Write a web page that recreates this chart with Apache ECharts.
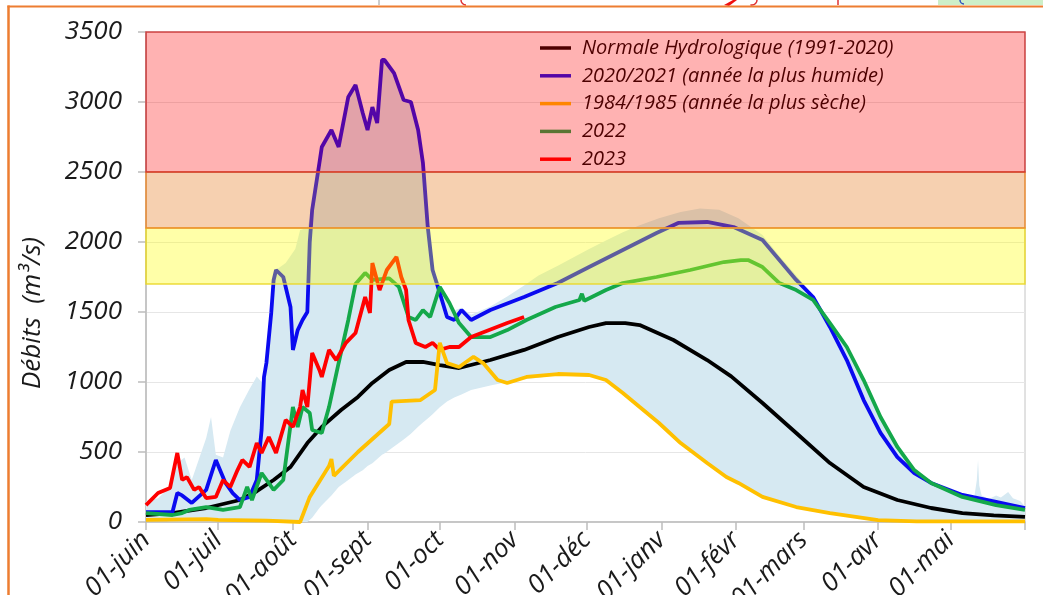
<!DOCTYPE html>
<html>
<head>
<meta charset="utf-8">
<script src="https://cdn.jsdelivr.net/npm/echarts@6/dist/echarts.min.js"></script>
<style>
html,body{margin:0;padding:0;background:#ffffff;}
#chart{width:1043px;height:595px;}
</style>
</head>
<body>
<div id="chart"></div>
<script>
// ---- Axis / category data (day offsets from 1 June) ----
const monthStartDays = [0, 30, 61, 92, 122, 153, 183, 214, 245, 273, 304, 334, 365];
const monthLabels = ['01-juin', '01-juil', '01-août', '01-sept', '01-oct', '01-nov', '01-déc', '01-janv', '01-févr', '01-mars', '01-avr', '01-mai'];
const yMin = 0, yMax = 3500, yStep = 500;
const yTitle = 'Débits  (m³/s)';

// Vigilance thresholds (m3/s) : [low, high]
const seuils = [[1700, 2100], [2100, 2500], [2500, 3500]];

const seriesNames = ['Normale Hydrologique (1991-2020)', '2020/2021 (année la plus humide)', '1984/1985 (année la plus sèche)', '2022', '2023'];

// ---- Series values: [day, m3/s] ----
const normale = [[0,50],[11,64],[25,100],[39,157],[46,220],[53,300],[60,393],[67,564],[73,679],[81,800],[88,893],[94,993],[101,1086],[108,1143],[115,1143],[122,1121],[130,1100],[143,1157],[157,1229],[171,1321],[184,1393],[191,1421],[199,1420],[205,1407],[219,1300],[233,1157],[243,1040],[256,850],[270,636],[284,421],[298,250],[312,157],[326,100],[339,64],[352,48],[365,36]];

const humide2021 = [[0,71],[11,71],[13,207],[15,190],[19,136],[25,229],[29,443],[33,279],[36,207],[39,157],[43,179],[46,300],[48,657],[49,1036],[50,1136],[52,1493],[53,1729],[54,1800],[57,1750],[60,1536],[61,1229],[63,1371],[65,1443],[67,1500],[68,2000],[69,2229],[72,2564],[73,2679],[77,2800],[80,2679],[84,3036],[87,3121],[90,2921],[92,2800],[94,2964],[96,2850],[98,3300],[99,3300],[103,3207],[107,3014],[110,3000],[113,2800],[115,2564],[117,2107],[119,1800],[122,1636],[125,1464],[128,1443],[131,1514],[135,1443],[143,1514],[157,1607],[171,1707],[184,1821],[198,1943],[212,2064],[221,2136],[233,2143],[244,2107],[256,2014],[270,1729],[277,1607],[284,1393],[291,1157],[298,871],[305,636],[312,464],[319,350],[326,279],[339,193],[353,143],[365,100]];

const seche1985 = [[0,15],[25,20],[30,15],[50,10],[64,0],[68,179],[76,400],[77,450],[78,330],[88,500],[101,700],[102,860],[114,871],[120,943],[122,1280],[125,1135],[130,1107],[136,1180],[140,1135],[146,1014],[150,993],[158,1036],[171,1057],[184,1050],[191,1014],[198,921],[205,821],[213,707],[222,564],[233,421],[241,321],[246,279],[256,179],[270,107],[284,64],[304,14],[320,5],[365,5]];

const an2022 = [[0,64],[11,50],[15,64],[18,86],[25,107],[32,86],[39,107],[42,250],[44,157],[48,350],[53,229],[57,300],[61,821],[63,679],[65,821],[68,779],[69,657],[73,636],[76,821],[80,1136],[84,1443],[87,1700],[91,1779],[94,1729],[101,1740],[105,1679],[109,1464],[112,1443],[115,1514],[118,1464],[122,1679],[126,1564],[130,1421],[135,1321],[143,1321],[150,1371],[158,1443],[170,1536],[180,1586],[181,1630],[182,1580],[191,1657],[198,1707],[212,1750],[226,1800],[240,1857],[247,1871],[250,1871],[256,1821],[263,1707],[270,1657],[277,1586],[284,1421],[291,1250],[298,1014],[305,750],[312,536],[319,371],[326,279],[339,179],[353,121],[365,86]];

const an2023 = [[0,120],[5,207],[10,243],[13,493],[15,300],[17,321],[20,229],[22,250],[25,171],[29,179],[32,300],[35,250],[38,371],[40,443],[43,393],[46,564],[48,493],[51,607],[54,493],[58,729],[61,679],[64,821],[65,943],[67,821],[69,1207],[72,1086],[73,1036],[76,1229],[79,1157],[83,1279],[87,1350],[91,1607],[93,1493],[94,1850],[97,1657],[100,1800],[104,1893],[106,1750],[108,1657],[109,1443],[112,1279],[116,1250],[119,1279],[122,1229],[126,1250],[130,1250],[135,1321],[150,1421],[157,1464]];

// Historical envelope: [day, min, max]
const enveloppe = [[0,10,150],[5,10,170],[10,5,250],[13,5,420],[16,5,460],[19,5,300],[22,5,450],[25,5,600],[27,5,750],[29,5,480],[32,5,460],[35,5,650],[39,5,820],[43,5,950],[46,5,1040],[48,5,1000],[50,5,1140],[52,5,1500],[54,5,1800],[58,5,1850],[62,5,1950],[64,0,2086],[67,0,2100],[69,30,2229],[72,100,2564],[73,120,2679],[77,190,2800],[80,250,2679],[84,300,3036],[87,340,3121],[90,370,2921],[92,400,2800],[94,420,2964],[96,450,2850],[98,480,3300],[99,490,3300],[103,540,3207],[107,590,3014],[110,630,3000],[113,680,2800],[115,710,2564],[117,740,2107],[119,770,1800],[122,820,1700],[125,860,1570],[128,890,1510],[131,910,1530],[135,943,1480],[143,975,1540],[150,1000,1610],[157,1020,1690],[163,1030,1760],[171,1050,1830],[184,1045,1950],[191,1010,2010],[198,915,2070],[205,815,2120],[213,700,2170],[222,560,2215],[230,450,2240],[238,360,2230],[246,270,2170],[256,175,2050],[263,135,1900],[270,105,1760],[277,80,1620],[284,60,1440],[291,40,1260],[298,25,1020],[305,12,760],[312,5,545],[319,3,380],[326,0,290],[333,0,235],[339,0,205],[344,0,185],[345,0,300],[345.5,0,443],[346,0,260],[347,0,190],[350,0,165],[353,0,190],[355,0,175],[358,0,214],[360,0,170],[363,0,150],[365,0,110]];

// ---- Styles ----
const FONT = '"Open Sans", Lato, "DejaVu Sans", sans-serif';
const lineColors = ['#000000', '#0A0AF0', '#FFC000', '#14A84A', '#FF0000'];
const envColor = '#D6E9F2';
const bandFill = ['rgba(255,255,0,0.34)', 'rgba(230,120,30,0.35)', 'rgba(255,0,0,0.30)'];
const bandStroke = ['rgba(235,215,40,0.9)', 'rgba(237,140,49,0.95)', 'rgba(205,50,50,0.85)'];

function lineSeries(name, data, color, z) {
  return {
    name: name, type: 'line', data: data, symbol: 'none', smooth: false,
    z: z, color: color,
    lineStyle: { color: color, width: 3.8 },
    itemStyle: { color: color },
    emphasis: { disabled: true }
  };
}

const chart = echarts.init(document.getElementById('chart'), null, { renderer: 'canvas' });

const option = {
  animation: false,
  backgroundColor: '#ffffff',
  textStyle: { fontFamily: FONT },
  grid: { left: 146, right: 18, top: 32, bottom: 73, containLabel: false, outerBoundsMode: 'none',
    show: true, borderColor: '#C4C4C4', borderWidth: 1, backgroundColor: 'transparent' },
  legend: {
    data: seriesNames,
    orient: 'vertical',
    left: 540, top: 38, padding: 0,
    icon: 'rect', itemWidth: 31, itemHeight: 3.5, itemGap: 7.8,
    textStyle: { fontFamily: FONT, fontSize: 20, fontStyle: 'italic', color: '#000', lineHeight: 20, padding: [0, 0, 0, 6] },
    selectedMode: false,
    z: 4
  },
  xAxis: {
    type: 'value', min: 0, max: 365,
    axisLine: { show: true, lineStyle: { color: '#BDBDBD', width: 1.5 } },
    axisTick: { show: true, customValues: monthStartDays, length: 8, inside: false, lineStyle: { color: '#BDBDBD', width: 1.5 } },
    axisLabel: {
      customValues: monthStartDays.slice(0, 12),
      formatter: function (v) { const i = monthStartDays.indexOf(v); return i >= 0 && i < monthLabels.length ? monthLabels[i] : ''; },
      rotate: 45, margin: 14, fontSize: 26, fontStyle: 'italic', color: '#1a1a1a', fontFamily: FONT
    },
    splitLine: { show: false }
  },
  yAxis: {
    type: 'value', min: yMin, max: yMax, interval: yStep,
    axisLine: { show: true, lineStyle: { color: '#BDBDBD', width: 1.5 } },
    axisTick: { show: true, length: 8, lineStyle: { color: '#BDBDBD', width: 1.5 } },
    axisLabel: { margin: 24, fontSize: 26, fontStyle: 'italic', color: '#1a1a1a', fontFamily: FONT,
      formatter: function (v) { return String(v); } },
    splitLine: { show: true, lineStyle: { color: '#E6E6E6', width: 1 } }
  },
  series: [
    {
      name: 'enveloppe', type: 'custom', z: 1, silent: true,
      data: enveloppe,
      encode: { x: 0, y: [1, 2] },
      renderItem: function (params, api) {
        if (params.dataIndex !== 0) return null;
        const pts = [];
        for (let i = 0; i < enveloppe.length; i++) pts.push(api.coord([enveloppe[i][0], enveloppe[i][2]]));
        for (let i = enveloppe.length - 1; i >= 0; i--) pts.push(api.coord([enveloppe[i][0], enveloppe[i][1]]));
        return { type: 'polygon', shape: { points: pts }, style: { fill: envColor } };
      }
    },
    lineSeries(seriesNames[0], normale, lineColors[0], 2),
    lineSeries(seriesNames[1], humide2021, lineColors[1], 2),
    lineSeries(seriesNames[3], an2022, lineColors[3], 2),
    lineSeries(seriesNames[4], an2023, lineColors[4], 2),
    lineSeries(seriesNames[2], seche1985, lineColors[2], 2),
    {
      name: 'seuils', type: 'custom', z: 10, silent: true,
      data: seuils,
      encode: { y: [0, 1] },
      renderItem: function (params, api) {
        const lo = api.value(0), hi = api.value(1);
        const yTop = api.coord([0, hi])[1];
        const yBot = api.coord([0, lo])[1];
        const cs = params.coordSys;
        return {
          type: 'rect',
          shape: { x: cs.x, y: yTop, width: cs.width, height: yBot - yTop },
          style: { fill: bandFill[params.dataIndex], stroke: bandStroke[params.dataIndex], lineWidth: 1.5 }
        };
      }
    }
  ],
  graphic: [
    { type: 'text', x: 33, y: 313, rotation: Math.PI / 2, style: { text: yTitle, font: 'italic 26px ' + FONT, fill: '#1a1a1a', align: 'center', verticalAlign: 'middle' }, z: 20 },
    { type: 'rect', shape: { x: 938, y: 0, width: 105, height: 5 }, style: { fill: '#CDEFC8' }, z: 20 },
    { type: 'line', shape: { x1: 379, y1: 0, x2: 379, y2: 5 }, style: { stroke: '#9A9A9A', lineWidth: 1 }, z: 20 },
    { type: 'line', shape: { x1: 838, y1: 0, x2: 838, y2: 5 }, style: { stroke: '#E03030', lineWidth: 1.5 }, z: 20 },
    { type: 'arc', shape: { cx: 466, cy: 0, r: 5, startAngle: Math.PI * 0.5, endAngle: Math.PI }, style: { stroke: '#E03030', lineWidth: 1.5, fill: 'none' }, z: 20 },
    { type: 'polygon', shape: { points: [[724, 5], [733, 0], [737, 0], [729, 6]] }, style: { fill: '#F01010' }, z: 20 },
    { type: 'arc', shape: { cx: 752, cy: 0, r: 5, startAngle: 0, endAngle: Math.PI * 0.6 }, style: { stroke: '#E03030', lineWidth: 1.5, fill: 'none' }, z: 20 },
    { type: 'arc', shape: { cx: 964, cy: 0, r: 4, startAngle: Math.PI * 0.5, endAngle: Math.PI }, style: { stroke: '#3050C0', lineWidth: 1.5, fill: 'none' }, z: 21 },
    { type: 'line', shape: { x1: 8.5, y1: 5.5, x2: 8.5, y2: 595 }, style: { stroke: '#ED7D31', lineWidth: 2.5 }, z: 20 },
    { type: 'line', shape: { x1: 7.5, y1: 6.5, x2: 1043, y2: 6.5 }, style: { stroke: '#ED7D31', lineWidth: 2 }, z: 20 }
  ]
};

chart.setOption(option);
</script>
</body>
</html>
